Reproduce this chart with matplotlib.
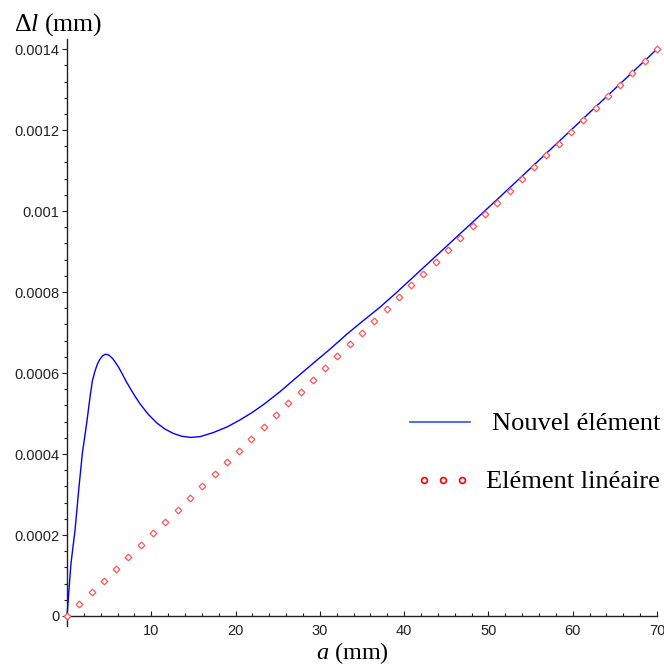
import numpy as np
import matplotlib
matplotlib.use("Agg")
import matplotlib.pyplot as plt
from matplotlib.ticker import FixedLocator, MultipleLocator, FixedFormatter
from matplotlib.lines import Line2D

plt.rcParams["mathtext.fontset"] = "custom"
plt.rcParams["mathtext.rm"] = "Liberation Serif"
plt.rcParams["mathtext.it"] = "Liberation Serif:italic"

# ---- data (a in mm, elongation in units of 1e-4 mm) ----
a_new = [0, 0.08, 0.47, 0.95, 1.42, 1.82, 2.33, 2.73, 3.0, 3.32, 3.6, 3.9,
         4.2, 4.5, 4.8, 5.1, 5.4, 5.69, 6.1, 6.5, 7.0, 7.5, 8.0, 8.66, 9.6,
         10.64, 11.6, 12.6, 13.6, 14.67, 15.8, 17.35, 19.0, 20.5, 22.0,
         23.5, 25.27, 27.0, 29.2, 31.2, 33.2, 35.0, 37.1, 39.1, 43.0, 47.0,
         51.0, 54.9, 60.0, 65.0, 70.0]
dl_new = [0, 0.23, 1.30, 2.12, 3.19, 4.02, 4.76, 5.41, 5.80, 6.05, 6.22,
          6.34, 6.42, 6.46, 6.46, 6.42, 6.36, 6.28, 6.15, 6.00, 5.80, 5.62,
          5.45, 5.24, 4.99, 4.77, 4.62, 4.51, 4.44, 4.41, 4.43, 4.53, 4.67,
          4.84, 5.03, 5.25, 5.54, 5.85, 6.24, 6.59, 6.96, 7.27, 7.62, 7.99,
          8.74, 9.51, 10.28, 11.04, 12.04, 13.02, 14.00]

a_lin = [0, 1.458, 2.917, 4.375, 5.833, 7.292, 8.75, 10.208, 11.667, 13.125,
         14.583, 16.042, 17.5, 18.958, 20.417, 21.875, 23.333, 24.792, 26.25,
         27.708, 29.167, 30.625, 32.083, 33.542, 35.0, 36.458, 37.917, 39.375,
         40.833, 42.292, 43.75, 45.208, 46.667, 48.125, 49.583, 51.042, 52.5,
         53.958, 55.417, 56.875, 58.333, 59.792, 61.25, 62.708, 64.167,
         65.625, 67.083, 68.542, 70.0]
dl_lin = [0, 0.2917, 0.5833, 0.875, 1.1667, 1.4583, 1.75, 2.0417, 2.3333,
          2.625, 2.9167, 3.2083, 3.5, 3.7917, 4.0833, 4.375, 4.6667, 4.9583,
          5.25, 5.5417, 5.8333, 6.125, 6.4167, 6.7083, 7.0, 7.2917, 7.5833,
          7.875, 8.1667, 8.4583, 8.75, 9.0417, 9.3333, 9.625, 9.9167, 10.2083,
          10.5, 10.7917, 11.0833, 11.375, 11.6667, 11.9583, 12.25, 12.5417,
          12.8333, 13.125, 13.4167, 13.7083, 14.0]

x_ticks = [10, 20, 30, 40, 50, 60, 70]
x_ticklabels = ["10", "20", "30", "40", "50", "60", "70"]
y_ticks = [0, 0.0002, 0.0004, 0.0006, 0.0008, 0.001, 0.0012, 0.0014]
y_ticklabels = ["0", "0.0002", "0.0004", "0.0006", "0.0008", "0.001",
                "0.0012", "0.0014"]

labels = ["Nouvel élément", "Elément linéaire"]

SCALE = 1e-4

W, H = 664, 666
fig = plt.figure(figsize=(W / 100, H / 100), dpi=100)
ax = fig.add_axes([65 / W, 1 - 626 / H, 592 / W, 587 / H])

ax.plot(a_new, np.array(dl_new) * SCALE, color="#0000ff", lw=1.0,
        zorder=3, clip_on=False)
ax.plot(a_lin, np.array(dl_lin) * SCALE, ls="none", marker="D",
        markersize=3.4, mfc="white", mec="#ff5555", mew=0.9,
        zorder=4, clip_on=False)

ax.set_xlim(-0.24, 70)
ax.set_ylim(-0.0000247, 0.001425)

for s in ("top", "right"):
    ax.spines[s].set_visible(False)
ax.spines["left"].set_position(("data", 0))
ax.spines["bottom"].set_position(("data", 0))
for s in ("left", "bottom"):
    ax.spines[s].set_color("#222222")
    ax.spines[s].set_linewidth(1.0)

ax.xaxis.set_major_locator(FixedLocator(x_ticks))
ax.xaxis.set_major_formatter(FixedFormatter(x_ticklabels))
ax.xaxis.set_minor_locator(MultipleLocator(2))
ax.yaxis.set_major_locator(FixedLocator(y_ticks))
ax.yaxis.set_major_formatter(FixedFormatter(y_ticklabels))
ax.yaxis.set_minor_locator(MultipleLocator(0.00004))

ax.tick_params(axis="x", which="major", direction="in", length=3.5,
               width=0.8, color="#222222", pad=6, labelsize=10.5,
               labelcolor="#222222")
ax.tick_params(axis="x", which="minor", direction="in", length=2,
               width=0.8, color="#222222")
ax.tick_params(axis="y", which="major", direction="out", length=3.5,
               width=0.8, color="#222222", pad=2, labelsize=10.5,
               labelcolor="#222222")
ax.tick_params(axis="y", which="minor", direction="out", length=2,
               width=0.8, color="#222222")
for lab in ax.get_xticklabels() + ax.get_yticklabels():
    lab.set_fontfamily("Liberation Sans")

# axis titles
fig.text(14 / W, 1 - 31 / H, r"$\Delta l$ (mm)", fontsize=18.5,
         family="Liberation Serif", ha="left", va="baseline")
fig.text(352 / W, 1 - 659 / H, r"$a$ (mm)", fontsize=17.5,
         family="Liberation Serif", ha="center", va="baseline")

# legend
def fx(px):
    return px / W

def fy(py):
    return 1 - py / H

fig.add_artist(Line2D([fx(410), fx(470)], [fy(422), fy(422)],
                      color="#3050ff", lw=1.2, transform=fig.transFigure))
fig.add_artist(Line2D([fx(424), fx(443), fx(462)], [fy(480)] * 3,
                      ls="none", marker="o", markersize=4.2, mfc="white",
                      mec="#ff0000", mew=1.2, transform=fig.transFigure))
fig.text(fx(660), fy(422), labels[0], fontsize=19, family="Liberation Serif",
         ha="right", va="center_baseline")
fig.text(fx(660), fy(480), labels[1], fontsize=19, family="Liberation Serif",
         ha="right", va="center_baseline")

fig.savefig("out.png", dpi=100)
